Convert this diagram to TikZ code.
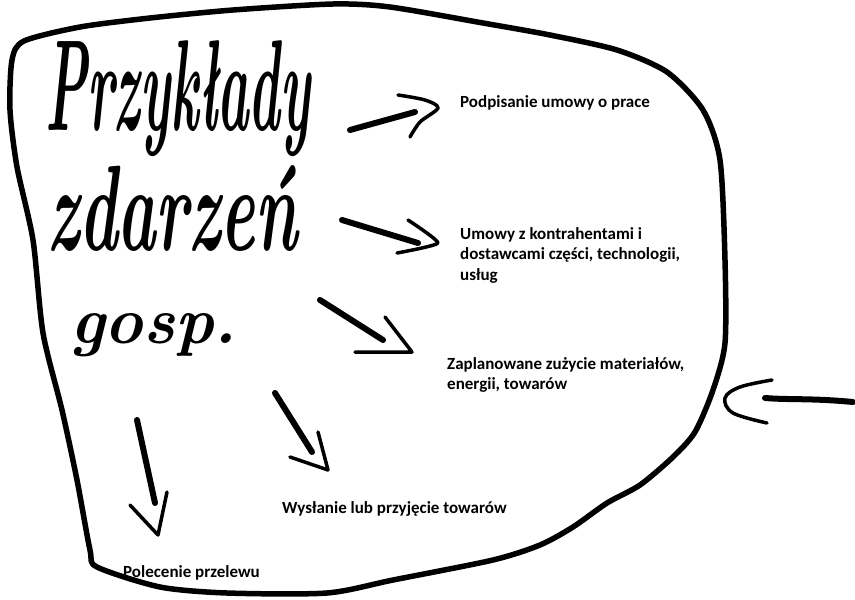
\documentclass[tikz,border=0pt]{standalone}
\usepackage{fontspec}
\usepackage{graphicx}
\newfontfamily\eventfont{Carlito}

\tikzset{
  outline/.style={line width=5.5pt, line cap=round, line join=round},
  shaft/.style={line width=6pt, line cap=round},
  tip/.style={line width=3.5pt, line cap=round, line join=round},
  hand/.style={inner sep=0pt, anchor=base west},
  event/.style={inner sep=0pt, align=left, font=\eventfont\bfseries\fontsize{17}{20.5}\selectfont},
}

\begin{document}
\begin{tikzpicture}[x=1pt,y=-1pt]
\useasboundingbox (0,0) rectangle (855,600);

% kontur
\draw[outline] plot[smooth cycle, tension=0.45] coordinates {
  (24,41) (80,27) (150,18) (233,10) (333,4) (390,7) (483,23) (550,35)
  (617,50) (667,72) (703,110) (720,160) (725,260) (725,343) (713,390)
  (695,432) (673,457) (640,485) (607,503) (573,527) (540,545) (493,560)
  (393,580) (327,593) (227,593) (160,587) (97,567) (90,550) (77,480)
  (62,410) (43,333) (33,240) (17,167) (10,110) (12,60)};

% tytul
\node[hand] (przyklady) at (45,130) {\resizebox{265pt}{90pt}{\bfseries\itshape Przykłady}};
\node[hand] (zdarzen) at (47,250) {\resizebox{250pt}{85pt}{\bfseries\itshape zdarzeń}};
\node[hand] (gosp) at (70,343) {\resizebox{167pt}{30pt}{\bfseries\itshape gosp.}};

% zdarzenia
\node[event, anchor=base west] (podpis) at (460,107) {Podpisanie umowy o prace};
\node[event, anchor=north west] (umowy) at (460,227) {Umowy z kontrahentami i\\dostawcami części, technologii,\\usług};
\node[event, anchor=north west] (zuzycie) at (447,357) {Zaplanowane zużycie materiałów,\\energii, towarów};
\node[event, anchor=base west] (wyslanie) at (282,513) {Wysłanie lub przyjęcie towarów};
\node[event, anchor=base west] (przelew) at (123,577) {Polecenie przelewu};

% strzalki
\coordinate (s1) at (350,130); \coordinate (e1) at (415,112);
\coordinate (s2) at (342,220); \coordinate (e2) at (418,243);
\coordinate (s3) at (320,300); \coordinate (e3) at (383,340);
\coordinate (s4) at (275,393); \coordinate (e4) at (312,452);
\coordinate (s5) at (137,420); \coordinate (e5) at (155,503);
\coordinate (s6) at (853,402); \coordinate (e6) at (765,398);

\draw[shaft] (s1) -- (e1);
\draw[tip] plot[smooth, tension=0.5] coordinates {(398,95) (425,100) (438,108) (420,122) (410,137)};

\draw[shaft] (s2) -- (e2);
\draw[tip] plot[smooth, tension=0.3] coordinates {(408,220) (438,243) (397,253)};

\draw[shaft] (s3) -- (e3);
\draw[tip] (385,317) -- (412,352) -- (355,352);

\draw[shaft] (s4) -- (e4);
\draw[tip] (318,432) -- (328,470) -- (290,457);

\draw[shaft] (s5) -- (e5);
\draw[tip] (130,505) -- (158,535) -- (167,492);

\draw[shaft] (s6) .. controls (810,398) and (790,400) .. (e6);
\draw[tip] plot[smooth, tension=0.6] coordinates {(772,380) (740,387) (725,398) (733,413) (767,423)};

\end{tikzpicture}
\end{document}
